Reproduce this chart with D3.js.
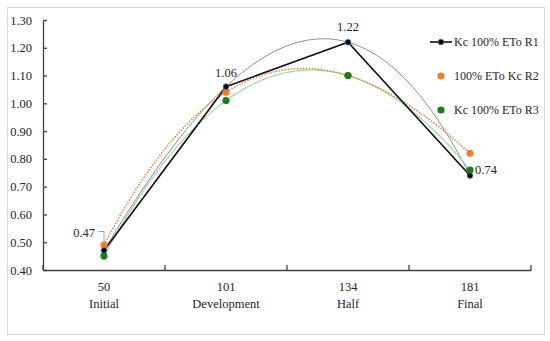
<!DOCTYPE html>
<html><head><meta charset="utf-8">
<script src="https://cdn.jsdelivr.net/npm/d3@7"></script>
<style>body{margin:0;background:#fff}svg{display:block}text{font-family:"Liberation Serif","DejaVu Serif",serif;fill:#262626}</style>
</head><body><svg id="c" width="550" height="341"></svg>
<script>
const days = ["50","101","134","181"];
const stages = ["Initial","Development","Half","Final"];
const seriesNames = ["Kc 100% ETo R1","100% ETo Kc R2","Kc 100% ETo R3"];
const r1 = [0.47,1.06,1.22,0.74];
const r2 = [0.49,1.04,1.10,0.82];
const r3 = [0.45,1.01,1.10,0.76];
const yTicks = [0.40,0.50,0.60,0.70,0.80,0.90,1.00,1.10,1.20,1.30];

const svg = d3.select("#c");
svg.append("rect").attr("x",7.5).attr("y",7.5).attr("width",537).attr("height",327)
  .attr("fill","#fff").attr("stroke","#d9d9d9");

const x = d3.scaleBand().domain(d3.range(4)).range([43,531]);
const cx = i => x(i) + x.bandwidth()/2;
const y = d3.scaleLinear().domain([0.40,1.30]).range([270,20]);

// axes
const ya = svg.append("g").attr("transform","translate(43,0)")
  .call(d3.axisLeft(y).tickValues(yTicks).tickFormat(d3.format(".2f")).tickSizeInner(-4).tickSizeOuter(0).tickPadding(11));
const xa = svg.append("g").attr("transform","translate(0,270)")
  .call(d3.axisBottom(x).tickSize(0).tickFormat(""));
[ya,xa].forEach(g=>{g.select(".domain").attr("stroke","#404040").attr("stroke-width",1.3);
  g.selectAll("line").attr("stroke","#404040").attr("stroke-width",1.3);
  g.selectAll("text").style("font-size","12.5px").attr("fill","#262626");});
const bounds = d3.range(5).map(i=> i<4 ? x(i) : x(3)+x.bandwidth());
svg.append("g").selectAll("line").data(bounds).join("line")
  .attr("x1",d=>d).attr("x2",d=>d).attr("y1",270).attr("y2",265)
  .attr("stroke","#404040").attr("stroke-width",1.3);
svg.append("g").selectAll("text").data(days).join("text")
  .attr("x",(d,i)=>cx(i)).attr("y",291).attr("text-anchor","middle").style("font-size","12.5px").text(d=>d);
svg.append("g").selectAll("text").data(stages).join("text")
  .attr("x",(d,i)=>cx(i)).attr("y",308).attr("text-anchor","middle").style("font-size","12.5px").text(d=>d);

// order-3 polynomial trendline through the 4 points
function trend(vals){
  const pts=[];
  for(let k=0;k<=120;k++){
    const t=k/120*3;
    let s=0;
    for(let i=0;i<4;i++){let l=1;for(let j=0;j<4;j++){if(j!==i) l*=(t-j)/(i-j);} s+=vals[i]*l;}
    pts.push([cx(0) + t*x.step(), y(s)]);
  }
  return d3.line()(pts);
}
svg.append("path").attr("d",trend(r1)).attr("fill","none").attr("stroke","#8c8c8c").attr("stroke-width",1);
svg.append("path").attr("d",trend(r3)).attr("fill","none").attr("stroke","#98d3a5").attr("stroke-width",1.1);
svg.append("path").attr("d",trend(r2)).attr("fill","none").attr("stroke","#ED7D31").attr("stroke-width",1.5).attr("stroke-dasharray","1.5,1.5");

svg.append("path").attr("d",d3.line().x((d,i)=>cx(i)).y(d=>y(d))(r1))
  .attr("fill","none").attr("stroke","#111").attr("stroke-width",1.6);

svg.append("g").selectAll("circle").data(r2).join("circle")
  .attr("cx",(d,i)=>cx(i)).attr("cy",d=>y(d)).attr("r",3.6).attr("fill","#ED7D31");
svg.append("g").selectAll("circle").data(r3).join("circle")
  .attr("cx",(d,i)=>cx(i)).attr("cy",d=>y(d)).attr("r",3.6).attr("fill","#1f7a1f");
svg.append("g").selectAll("circle").data(r1).join("circle")
  .attr("cx",(d,i)=>cx(i)).attr("cy",d=>y(d)).attr("r",2.8).attr("fill","#000").attr("stroke","#2e75b6").attr("stroke-width",0.8);

const lab = svg.append("g").style("font-size","12.5px");
lab.append("text").attr("x",cx(1)).attr("y",y(r1[1])-10).attr("text-anchor","middle").text(r1[1].toFixed(2));
lab.append("text").attr("x",cx(2)).attr("y",y(r1[2])-11).attr("text-anchor","middle").text(r1[2].toFixed(2));
lab.append("text").attr("x",cx(3)+5).attr("y",y(r1[3])-2).attr("text-anchor","start").text(r1[3].toFixed(2));
lab.append("text").attr("x",cx(0)-9).attr("y",y(r1[0])-14).attr("text-anchor","end").text(r1[0].toFixed(2));
svg.append("path").attr("d",`M${cx(0)-6},${y(r1[0])-19}H${cx(0)}V${y(r1[0])-9}`)
  .attr("fill","none").attr("stroke","#999").attr("stroke-width",0.9);

const lg = svg.append("g").style("font-size","12px");
const ly = [42,76,110];
lg.append("line").attr("x1",430).attr("x2",452).attr("y1",ly[0]).attr("y2",ly[0]).attr("stroke","#111").attr("stroke-width",1.6);
lg.append("circle").attr("cx",441).attr("cy",ly[0]).attr("r",2.8).attr("fill","#000").attr("stroke","#2e75b6").attr("stroke-width",0.8);
lg.append("circle").attr("cx",441).attr("cy",ly[1]).attr("r",3.6).attr("fill","#ED7D31");
lg.append("circle").attr("cx",441).attr("cy",ly[2]).attr("r",3.6).attr("fill","#1f7a1f");
lg.selectAll("text").data(seriesNames).join("text").attr("x",454).attr("y",(d,i)=>ly[i]+4).text(d=>d);
</script></body></html>
